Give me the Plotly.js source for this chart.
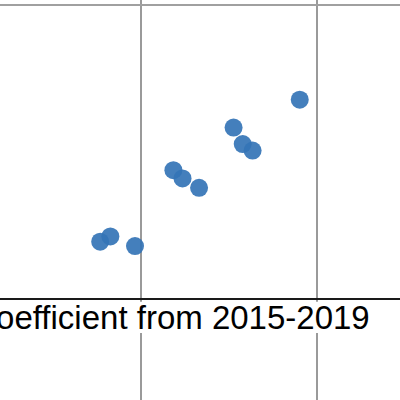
<!DOCTYPE html>
<html>
<head>
<meta charset="utf-8">
<script src="https://cdn.plot.ly/plotly-3.0.1.min.js"></script>
<style>html,body{margin:0;padding:0;background:#fff;}#chart{width:400px;height:400px;}</style>
</head>
<body>
<div id="chart"></div>
<script>
// Data (values estimated)
const xValues = [-0.116, -0.087, -0.017, 0.092, 0.118, 0.165, 0.263, 0.289, 0.317, 0.451];
const yValues = [0.195, 0.213, 0.180, 0.438, 0.410, 0.378, 0.583, 0.527, 0.505, 0.678];
const xTicks = [-0.5, 0, 0.5, 1.0];
const yTicks = [0, 1];
const xTitle = "Correlation coefficient from 2015-2019";

const trace = {
  x: xValues,
  y: yValues,
  type: 'scatter',
  mode: 'markers',
  marker: {size: 18, color: 'rgba(52,116,182,0.92)', line: {width: 0}},
  hoverinfo: 'skip'
};

const layout = {
  width: 400,
  height: 400,
  margin: {l: 0, r: 0, t: 0, b: 0, pad: 0},
  paper_bgcolor: '#ffffff',
  plot_bgcolor: '#ffffff',
  showlegend: false,
  font: {family: 'Liberation Sans, Arial, sans-serif', color: '#000'},
  xaxis: {
    range: [-0.4006, 0.7358],
    tickvals: xTicks,
    showticklabels: false,
    ticks: '',
    showgrid: true,
    gridcolor: '#9a9a9a',
    gridwidth: 2,
    zeroline: false,
    showline: false,
    fixedrange: true
  },
  yaxis: {
    range: [-0.3435, 1.017],
    tickvals: yTicks,
    showticklabels: false,
    ticks: '',
    showgrid: true,
    gridcolor: '#a0a0a0',
    gridwidth: 2,
    zeroline: true,
    zerolinecolor: '#1a1a1a',
    zerolinewidth: 2.5,
    showline: false,
    fixedrange: true
  },
  shapes: [{
    type: 'rect', xref: 'paper', yref: 'paper',
    x0: 0, x1: 0.94, y0: 0.1675, y1: 0.2455,
    fillcolor: '#ffffff', line: {width: 0}, layer: 'above'
  }],
  annotations: [{
    xref: 'paper', yref: 'paper',
    x: 0.9275, y: 0.2075,
    xanchor: 'right', yanchor: 'middle',
    text: xTitle,
    showarrow: false,
    borderpad: 0,
    font: {family: 'Liberation Sans, Arial, sans-serif', size: 33, color: '#000'}
  }]
};

Plotly.newPlot('chart', [trace], layout, {staticPlot: true, displayModeBar: false});
</script>
</body>
</html>
